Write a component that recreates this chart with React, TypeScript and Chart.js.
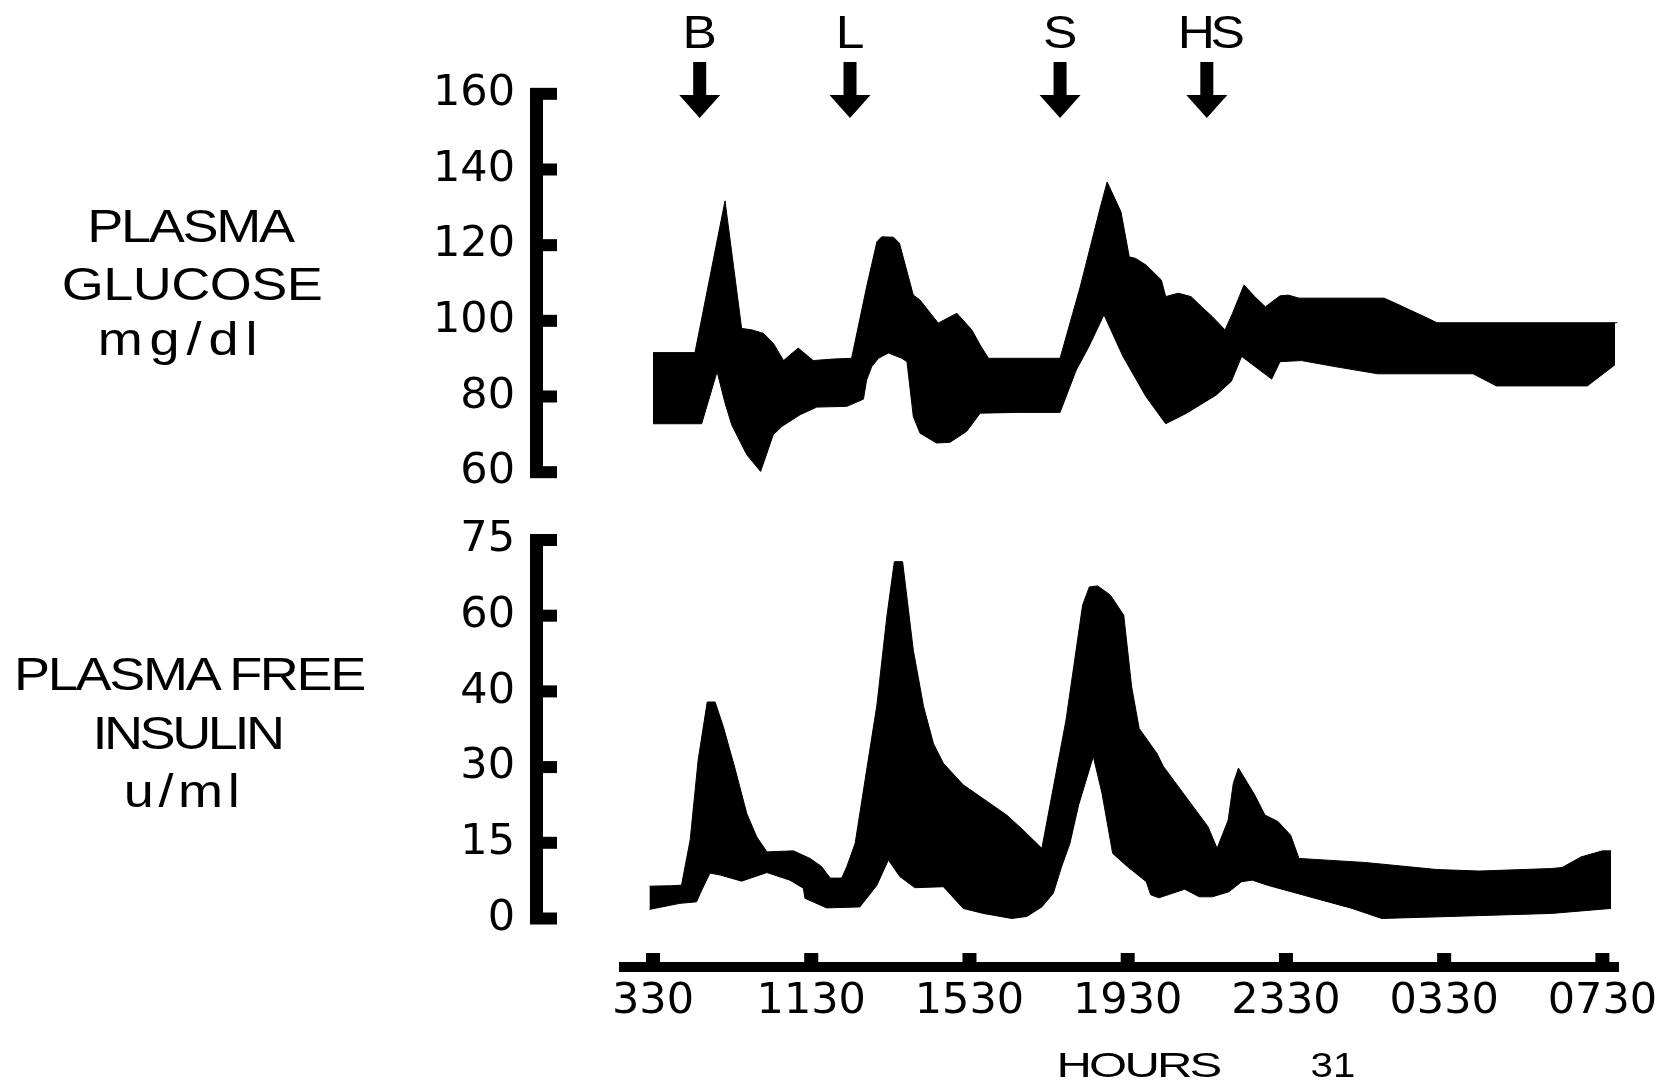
import React, { useEffect, useRef } from 'react';
import { Chart, LinearScale, registerables } from 'chart.js';

// ---------- data ----------
// x values are hours after the first tick (ticks every 4 h)
const xTickHours = [0, 4, 8, 12, 16, 20, 24];
const xTickLabels = ['330', '1130', '1530', '1930', '2330', '0330', '0730'];
const glucoseTicks = [60, 80, 100, 120, 140, 160];
const insulinTicks = [0, 15, 30, 40, 60, 75];
const mealLabels = ['B', 'L', 'S', 'HS'];
const mealHours = [1.18, 4.98, 10.29, 14.0];

// plasma glucose band (mg/dl): [hour, value]
const glucoseUpper: [number, number][] = [
  [0, 91.6], [1.06, 91.6], [1.82, 131.7], [2.07, 111.7], [2.24, 98.0], [2.5, 97.6], [2.79, 96.7],
  [3.04, 94.1], [3.3, 89.5], [3.67, 92.8], [4.05, 89.5], [4.56, 89.9], [5.02, 90.1], [5.4, 109.0],
  [5.66, 120.9], [5.78, 122.2], [6.08, 122.1], [6.23, 120.5], [6.58, 106.8], [6.75, 105.5],
  [7.21, 99.4], [7.68, 102.0], [8.06, 97.6], [8.27, 93.6], [8.48, 90.1], [10.29, 90.1],
  [10.8, 109.0], [11.3, 129.7], [11.48, 136.7], [11.83, 128.8], [12.04, 116.9], [12.2, 116.5],
  [12.47, 114.7], [12.85, 110.8], [12.96, 106.4], [13.28, 107.3], [13.6, 106.4], [13.87, 103.7],
  [14.14, 101.1], [14.46, 97.6], [14.65, 102.0], [14.94, 109.5], [15.21, 106.4], [15.48, 103.7],
  [15.85, 106.6], [16.06, 106.8], [16.33, 106.0], [18.48, 106.0], [18.8, 104.5], [19.5, 101.1],
  [19.82, 99.5], [24.38, 99.5],
];
const glucoseLower: [number, number][] = [
  [0, 72.8], [1.23, 72.8], [1.62, 86.6], [1.82, 78.3], [1.99, 72.5], [2.37, 64.6], [2.72, 60.2],
  [3.04, 69.9], [3.26, 72.1], [3.72, 75.2], [4.14, 77.2], [4.9, 77.4], [5.32, 79.3], [5.4, 84.4],
  [5.53, 87.9], [5.7, 90.1], [5.95, 91.5], [6.29, 90.1], [6.42, 89.2], [6.58, 74.7], [6.75, 70.3],
  [7.17, 67.7], [7.51, 67.9], [7.93, 70.8], [8.27, 75.6], [9.24, 75.8], [10.29, 75.8], [10.7, 87.0],
  [11.02, 93.2], [11.4, 101.6], [11.88, 90.6], [12.46, 80.0], [12.96, 72.8], [13.49, 75.6],
  [14.24, 80.4], [14.62, 84.0], [14.88, 90.6], [15.64, 84.6], [15.85, 89.2], [16.39, 89.5],
  [17.24, 87.9], [18.32, 86.0], [20.73, 86.0], [21.32, 82.8], [23.62, 82.8], [24.32, 88.4],
];

// plasma free insulin band (u/ml): [hour, value]
const insulinUpper: [number, number][] = [
  [-0.09, 6.4], [0.47, 6.5], [0.72, 6.6], [0.94, 15.6], [1.14, 30.9], [1.37, 38.6], [1.57, 38.6],
  [1.78, 35.3], [2.07, 29.8], [2.37, 20.8], [2.62, 16.2], [2.88, 13.2], [3.55, 13.4], [3.97, 11.9],
  [4.26, 10.3], [4.48, 8.0], [4.77, 8.0], [4.9, 10.3], [5.11, 14.9], [5.4, 29.4], [5.66, 38.2],
  [5.91, 59.7], [6.1, 70.7], [6.31, 70.7], [6.58, 50.9], [6.84, 38.0], [7.09, 33.1], [7.34, 30.5],
  [7.84, 26.5], [8.94, 20.5], [9.36, 17.5], [9.83, 13.9], [10.44, 36.2], [10.86, 62.1],
  [11.03, 65.7], [11.24, 65.9], [11.56, 64.1], [11.9, 60.1], [12.1, 41.2], [12.29, 35.1],
  [12.74, 31.8], [12.9, 30.1], [14.03, 18.2], [14.26, 13.9], [14.54, 19.5], [14.67, 26.8],
  [14.8, 29.8], [15.21, 24.5], [15.47, 20.5], [15.8, 19.2], [16.12, 16.5], [16.33, 11.9],
  [18.0, 11.1], [19.82, 9.7], [20.89, 9.4], [22.71, 9.9], [22.98, 10.1], [23.46, 12.2],
  [24.0, 13.4], [24.22, 13.4],
];
const insulinLower: [number, number][] = [
  [-0.09, 1.8], [0.68, 3.0], [1.1, 3.3], [1.23, 5.6], [1.44, 9.0], [1.7, 8.6], [2.24, 7.4],
  [2.88, 9.1], [3.46, 7.6], [3.8, 6.0], [3.84, 4.0], [4.39, 2.1], [5.23, 2.3], [5.66, 6.6],
  [5.95, 11.6], [6.24, 8.3], [6.62, 6.1], [7.34, 6.3], [7.84, 2.0], [8.35, 1.0], [9.07, 0.0],
  [9.45, 0.4], [9.83, 2.3], [10.12, 5.0], [10.33, 10.3], [10.54, 14.9], [10.76, 22.5],
  [11.13, 31.4], [11.35, 24.8], [11.62, 12.9], [11.99, 10.3], [12.47, 7.3], [12.58, 4.7],
  [12.79, 4.1], [13.44, 5.8], [13.81, 4.3], [14.14, 4.3], [14.56, 5.3], [14.88, 7.3],
  [15.15, 7.6], [15.53, 6.6], [17.67, 2.0], [18.42, 0.0], [22.71, 1.0], [24.22, 2.0],
];

// ---------- insulin axis: evenly spaced, non-linear ticks ----------
function insulinIndex(v: number): number {
  const t = insulinTicks;
  if (v <= t[0]) return (v - t[0]) / (t[1] - t[0]);
  for (let i = 1; i < t.length; i++) {
    if (v <= t[i]) return i - 1 + (v - t[i - 1]) / (t[i] - t[i - 1]);
  }
  const n = t.length - 1;
  return n + (v - t[n]) / (t[n] - t[n - 1]);
}
function insulinFromIndex(k: number): number {
  const t = insulinTicks;
  const n = t.length - 1;
  if (k <= 0) return t[0] + k * (t[1] - t[0]);
  if (k >= n) return t[n] + (k - n) * (t[n] - t[n - 1]);
  const i = Math.floor(k);
  return t[i] + (k - i) * (t[i + 1] - t[i]);
}

class BrokenScale extends LinearScale {
  static id = 'broken';
  static defaults = LinearScale.defaults;
  getPixelForValue(value: number) {
    const a = insulinIndex(this.min);
    const b = insulinIndex(this.max);
    return this.getPixelForDecimal((insulinIndex(value) - a) / (b - a));
  }
  getValueForPixel(pixel: number) {
    const a = insulinIndex(this.min);
    const b = insulinIndex(this.max);
    return insulinFromIndex(a + this.getDecimalForPixel(pixel) * (b - a));
  }
}

Chart.register(...registerables, BrokenScale);

// ---------- styling ----------
const BLACK = '#000';
const TICK_FONT = { family: '"DejaVu Sans", sans-serif', size: 43 };
const PLOT_LEFT = 619;

const axisFramePlugin = (drawX: boolean) => ({
  id: 'axisFrame',
  afterDraw(chart: any) {
    const { ctx, chartArea } = chart;
    const y = chart.scales.y;
    const ax = chartArea.left - 89;
    const n = y.ticks.length;
    const top = y.getPixelForTick(n - 1);
    const bot = y.getPixelForTick(0);
    ctx.save();
    ctx.fillStyle = BLACK;
    ctx.fillRect(ax, top - 6, 13, bot - top + 12);
    for (let i = 0; i < n; i++) {
      const p = y.getPixelForTick(i);
      ctx.fillRect(ax + 13, p - 6, 14, 12);
    }
    if (drawX) {
      const x = chart.scales.x;
      const b = chartArea.bottom;
      ctx.fillRect(chartArea.left, b - 5, chartArea.right - chartArea.left, 10);
      for (let i = 0; i < x.ticks.length; i++) {
        const p = x.getPixelForTick(i);
        ctx.fillRect(p - 7, b - 14, 14, 9);
      }
    }
    ctx.restore();
  },
});

const mealArrowPlugin = {
  id: 'mealArrows',
  afterDraw(chart: any) {
    const { ctx } = chart;
    const x = chart.scales.x;
    ctx.save();
    ctx.fillStyle = BLACK;
    ctx.font = '46px "Liberation Sans", Arial, sans-serif';
    ctx.textAlign = 'center';
    ctx.textBaseline = 'alphabetic';
    mealHours.forEach((h, i) => {
      const px = x.getPixelForValue(h);
      const label = mealLabels[i];
      ctx.save();
      ctx.translate(px, 48);
      ctx.scale(1.12, 1);
      if (label.length > 1) {
        (ctx as any).letterSpacing = '-4px';
        ctx.translate(2, 0);
      }
      ctx.fillText(label, 0, 0);
      ctx.restore();
      ctx.fillRect(px - 6.5, 62, 13, 34);
      ctx.beginPath();
      ctx.moveTo(px - 20.5, 95);
      ctx.lineTo(px + 20.5, 95);
      ctx.lineTo(px, 118);
      ctx.closePath();
      ctx.fill();
    });
    ctx.restore();
  },
};

function bandDatasets(upper: [number, number][], lower: [number, number][]) {
  const common = {
    backgroundColor: BLACK,
    borderColor: BLACK,
    borderWidth: 1,
    pointRadius: 0,
    tension: 0,
  };
  return [
    { ...common, data: upper.map(([x, y]) => ({ x, y })), fill: '+1' },
    { ...common, data: lower.map(([x, y]) => ({ x, y })), fill: false },
  ];
}

function xScale(show: boolean) {
  return {
    type: 'linear',
    display: show,
    min: -0.86,
    max: 24.42,
    afterBuildTicks: (s: any) => {
      s.ticks = xTickHours.map((v) => ({ value: v }));
    },
    afterFit: (s: any) => {
      if (show) s.height = 121;
      s.paddingLeft = 0;
      s.paddingRight = 0;
    },
    ticks: {
      autoSkip: false,
      maxRotation: 0,
      minRotation: 0,
      padding: 0,
      color: BLACK,
      font: TICK_FONT,
      callback: (_v: any, i: number) => xTickLabels[i],
    },
    grid: { display: false, drawTicks: true, tickLength: 9 },
    border: { display: false },
  };
}

function yCommon(ticks: number[]) {
  return {
    bounds: 'data',
    afterBuildTicks: (s: any) => {
      s.ticks = ticks.map((v) => ({ value: v }));
    },
    afterFit: (s: any) => {
      s.width = PLOT_LEFT;
      s.paddingTop = 0;
      s.paddingBottom = 0;
    },
    ticks: {
      padding: 104,
      color: BLACK,
      font: TICK_FONT,
      autoSkip: false,
      callback: (v: any) => String(v),
    },
    grid: { display: false, drawTicks: false },
    border: { display: false },
  };
}

const baseOptions = {
  animation: false,
  responsive: false,
  devicePixelRatio: 1,
  events: [],
  plugins: { legend: { display: false }, tooltip: { enabled: false } },
};

function Txt(props: {
  text: string;
  cx: number;
  baseline: number;
  size: number;
  sx?: number;
  ls?: number;
}) {
  const { text, cx, baseline, size, sx = 1.15, ls = 0 } = props;
  return (
    <div
      style={{
        position: 'absolute',
        left: cx,
        top: baseline - 0.8465 * size,
        fontFamily: '"Liberation Sans", Arial, sans-serif',
        fontSize: size,
        lineHeight: `${size}px`,
        letterSpacing: ls,
        whiteSpace: 'nowrap',
        color: BLACK,
        transform: `translateX(-50%) scaleX(${sx})`,
      }}
    >
      {text}
    </div>
  );
}

export default function App() {
  const gRef = useRef<HTMLCanvasElement>(null);
  const iRef = useRef<HTMLCanvasElement>(null);

  useEffect(() => {
    const glucoseChart = new Chart(gRef.current as HTMLCanvasElement, {
      type: 'line',
      data: { datasets: bandDatasets(glucoseUpper, glucoseLower) as any },
      options: {
        ...baseOptions,
        layout: { padding: { top: 56, bottom: 578, left: 0, right: 46 } },
        scales: {
          x: xScale(false) as any,
          y: { type: 'linear', min: 50, max: 170, ...yCommon(glucoseTicks) } as any,
        },
      } as any,
      plugins: [axisFramePlugin(false), mealArrowPlugin],
    });

    const insulinChart = new Chart(iRef.current as HTMLCanvasElement, {
      type: 'line',
      data: { datasets: bandDatasets(insulinUpper, insulinLower) as any },
      options: {
        ...baseOptions,
        layout: { padding: { top: 520, bottom: 0, left: 0, right: 46 } },
        scales: {
          x: xScale(true) as any,
          y: { type: 'broken', min: -9.61, max: 78.96, ...yCommon(insulinTicks) } as any,
        },
      } as any,
      plugins: [axisFramePlugin(true)],
    });

    return () => {
      glucoseChart.destroy();
      insulinChart.destroy();
    };
  }, []);

  return (
    <div
      style={{
        position: 'fixed',
        left: 0,
        top: 0,
        width: 1665,
        height: 1088,
        background: '#fff',
        overflow: 'hidden',
      }}
    >
      <canvas ref={gRef} width={1665} height={1088} style={{ position: 'absolute', left: 0, top: 0 }} />
      <canvas ref={iRef} width={1665} height={1088} style={{ position: 'absolute', left: 0, top: 0 }} />

      <Txt text="PLASMA" cx={190} baseline={242} size={47} ls={-2} />
      <Txt text="GLUCOSE" cx={192} baseline={300} size={47} ls={-0.5} />
      <Txt text="mg/dl" cx={181} baseline={355} size={47} ls={6} />

      <Txt text="PLASMA FREE" cx={189} baseline={690} size={47} ls={-2} />
      <Txt text="INSULIN" cx={187} baseline={749} size={47} ls={-3} />
      <Txt text="u/ml" cx={184} baseline={807} size={47} ls={4} />

      <Txt text="HOURS" cx={1138} baseline={1077} size={35} sx={1.4} ls={-2} />
      <Txt text="31" cx={1333} baseline={1077} size={35} sx={1.15} />
    </div>
  );
}
